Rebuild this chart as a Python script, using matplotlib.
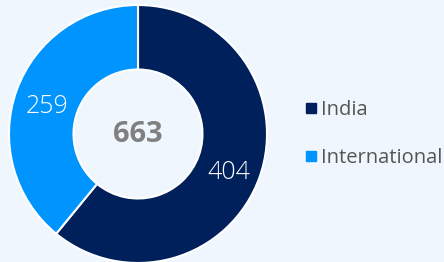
import matplotlib
matplotlib.use("Agg")
import matplotlib.pyplot as plt
from matplotlib.lines import Line2D

labels = ["India", "International"]
values = [404, 259]
colors = ["#00205b", "#0094ff"]
bg = "#f0f6fd"

plt.rcParams["font.family"] = ["Open Sans", "DejaVu Sans"]

fig = plt.figure(figsize=(4.44, 2.62), dpi=100)
fig.patch.set_facecolor(bg)

# donut axes: centre ~ (138, 134) px, outer radius ~129 px
ax = fig.add_axes([9 / 444, -1 / 262, 258 / 444, 258 / 262])
ax.set_facecolor(bg)
wedges, texts = ax.pie(values, colors=colors, startangle=90, counterclock=False,
                       radius=1, labels=[str(v) for v in values], labeldistance=0.75,
                       wedgeprops=dict(width=0.5, edgecolor="white", linewidth=1.5),
                       textprops=dict(color="white", fontsize=18, fontweight="light"))
for t in texts:
    t.set_ha("center")
    t.set_va("center_baseline")
    x, y = t.get_position()
    t.set_position((x, y - 0.02))
ax.set_xlim(-1, 1)
ax.set_ylim(-1, 1)
ax.set_aspect("equal")
ax.axis("off")

ax.text(0, 0.02, str(sum(values)), ha="center", va="center_baseline", fontsize=21,
        fontweight="bold", color="#808080")

handles = [Line2D([], [], marker="s", linestyle="none", markersize=7,
                  markerfacecolor=c, markeredgecolor=c) for c in colors]
fig.legend(handles, labels, loc="center left", bbox_to_anchor=(306 / 444, 1 - 134 / 262),
           frameon=False, fontsize=14.5, labelcolor="#555555", handlelength=0.5,
           handletextpad=0.25, labelspacing=1.35, borderpad=0, borderaxespad=0)

fig.savefig("out.png", dpi=100, facecolor=bg)
